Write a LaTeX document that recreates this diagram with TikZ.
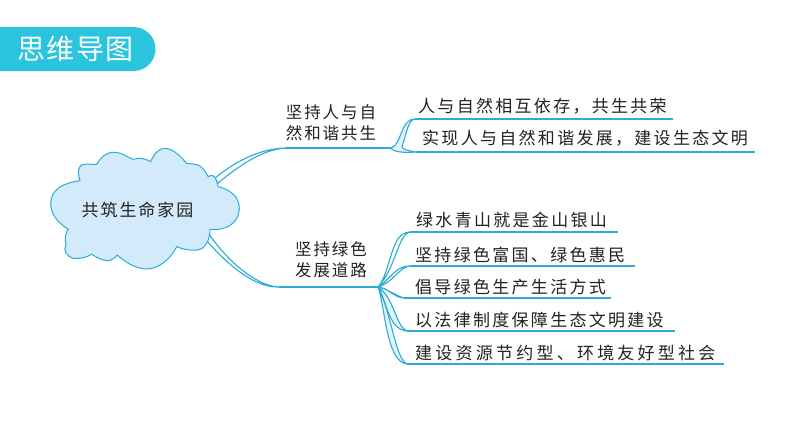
\documentclass[tikz,border=0pt]{standalone}
\usepackage{fontspec}
\newfontfamily\cjkleaf{Noto Sans CJK SC}[LetterSpace=13.5]
\newfontfamily\cjkwide{Noto Sans CJK SC}[LetterSpace=19]
\newfontfamily\cjkmid{Noto Sans CJK SC}[LetterSpace=11.5]
\newfontfamily\cjktitle{Noto Sans CJK SC}[LetterSpace=4]
\definecolor{tealbar}{HTML}{2BC4DE}
\definecolor{linec}{HTML}{2BADD6}
\definecolor{cloudfill}{HTML}{D2EAF9}
\definecolor{ink}{HTML}{222222}
\tikzset{
 px/.style={x=1pt,y=-1pt},
 lab/.style={font=\cjkleaf\fontsize{17}{20}\selectfont,text=ink,inner sep=0pt,anchor=west},
 widelab/.style={lab,font=\cjkwide\fontsize{17}{20}\selectfont},
 cnt/.style={font=\cjkmid\fontsize{16.5}{21}\selectfont,text=ink,inner sep=0pt,align=center},
 branch/.style={draw=linec,line width=1.1pt,fill=white,line join=round},
 fan/.style={draw=linec,line width=1.1pt,fill=cloudfill!60,line join=round},
 rule/.style={draw=linec,line width=1.2pt},
}
\begin{document}
\begin{tikzpicture}[px]
\useasboundingbox (0,0) rectangle (794,447);
\fill[white] (0,0) rectangle (794,447);
% title bar
\fill[tealbar] (0,27) -- (133.5,27) arc[start angle=-90,end angle=90,radius=22] -- (0,71) -- cycle;
\node[font=\cjktitle\fontsize{28}{30}\selectfont,text=white,inner sep=0pt] (title) at (75.5,49) {思维导图};
% hub connections
\coordinate (hubA) at (391,148);
\coordinate (hubB) at (378,287);
\coordinate (midA) at (285,148);
\coordinate (midB) at (279,287);
\coordinate (cA) at (215,178);
\coordinate (cA2) at (218,183);
\coordinate (cB) at (209,234);
\coordinate (cB2) at (207,241);
% cloud to main lines
\draw[branch] (cA) .. controls (240,158) and (262,149) .. (midA) .. controls (262,150) and (240,165) .. (cA2) -- cycle;
\draw[branch] (cB) .. controls (225,258) and (255,286) .. (midB) .. controls (255,288) and (228,265) .. (cB2) -- cycle;
% cloud
\draw[draw=linec,line width=1pt,fill=cloudfill] (50.7,203.3)
 .. controls (51,190) and (62,183) .. (80,180.7)
 .. controls (77,172) and (79,166) .. (81.7,165)
 .. controls (87,163) and (92,165) .. (96.7,164.3)
 .. controls (101,157) and (107,152) .. (113.3,152.3)
 .. controls (122,152) and (128,158) .. (133.3,159.3)
 .. controls (140,157) and (146,159) .. (150.7,161.7)
 .. controls (154,153) and (160,148) .. (165,148.3)
 .. controls (174,149) and (181,157) .. (186.7,163.3)
 .. controls (192,164) and (197,164) .. (200,166)
 .. controls (204,169) and (206,173) .. (208.3,176.7)
 .. controls (211,175) and (214,175) .. (215,177.3)
 .. controls (217,180) and (217,183) .. (218.3,186.7)
 .. controls (232,190) and (239.3,198) .. (239.3,208.3)
 .. controls (239,222) and (228,231) .. (210,229.3)
 .. controls (210,240) and (205,250) .. (196.7,250)
 .. controls (190,251) and (182,249) .. (176.7,246.7)
 .. controls (170,260) and (158,269) .. (146.7,269)
 .. controls (136,269) and (125,262) .. (117.3,255)
 .. controls (114,259) and (110,261) .. (106.7,260.7)
 .. controls (101,260) and (96,257) .. (91.7,254.3)
 .. controls (86,258) and (78,259) .. (73.3,258.3)
 .. controls (66,256) and (63,250) .. (66,245)
 .. controls (64,238) and (66,233) .. (68.3,229.3)
 .. controls (57,222) and (50.7,214) .. (50.7,203.3) -- cycle;
\node[cnt,font=\cjkmid\fontsize{17}{20}\selectfont] (root) at (137.5,210) {共筑生命家园};
% sub-branch labels
\node[cnt] (upper) at (331,122.5) {坚持人与自\\然和谐共生};
\node[cnt] (lower) at (331,259.5) {坚持绿色\\发展道路};
\draw[rule] (midA) -- (hubA);
\draw[rule] (midB) -- (hubB);
% rule ends
\coordinate (a1) at (415,119); \coordinate (a1e) at (673,119);
\coordinate (a2) at (416,152); \coordinate (a2e) at (755,152);
\coordinate (b1) at (410,232); \coordinate (b1e) at (618,232);
\coordinate (b2) at (410,266); \coordinate (b2e) at (635,266);
\coordinate (b3) at (404,298); \coordinate (b3e) at (611,298);
\coordinate (b4) at (407,331); \coordinate (b4e) at (675,331);
\coordinate (b5) at (407,364); \coordinate (b5e) at (724,364);
\draw[rule] (a1) -- (a1e);
\draw[rule] (a2) -- (a2e);
\foreach \n in {1,...,5}{\draw[rule] (b\n) -- (b\n e);}
% upper fans
\draw[fan] (hubA) .. controls (402,145) and (400,119) .. (a1) .. controls (408,120) and (406,135) .. (402,147) .. controls (403,150) and (410,151) .. (a2) .. controls (405,153) and (392,152) .. (hubA) -- cycle;
% lower fans
\draw[branch] (hubB) .. controls (392,270) and (390,232) .. (b1) .. controls (398,234) and (396,268) .. (hubB) -- cycle;
\draw[branch] (hubB) .. controls (392,278) and (395,266) .. (b2) .. controls (399,267) and (394,282) .. (hubB) -- cycle;
\draw[branch] (hubB) .. controls (389,288) and (394,298) .. (b3) .. controls (394,295) and (390,290) .. (hubB) -- cycle;
\draw[fan] (hubB) .. controls (386,298) and (388,330) .. (b4) .. controls (396,327) and (394,297) .. (hubB) -- cycle;
\draw[fan] (hubB) .. controls (385,305) and (386,362) .. (b5) .. controls (395,358) and (392,315) .. (hubB) -- cycle;
% leaf labels
\node[lab] (t1) at (418,106) {人与自然相互依存，共生共荣};
\node[lab] (t2) at (422,138) {实现人与自然和谐发展，建设生态文明};
\node[lab] (t3) at (416,220) {绿水青山就是金山银山};
\node[lab] (t4) at (415,255) {坚持绿色富国、绿色惠民};
\node[lab] (t5) at (415,287) {倡导绿色生产生活方式};
\node[lab] (t6) at (415,320) {以法律制度保障生态文明建设};
\node[widelab] (t7) at (415,353) {建设资源节约型、环境友好型社会};
\end{tikzpicture}
\end{document}
